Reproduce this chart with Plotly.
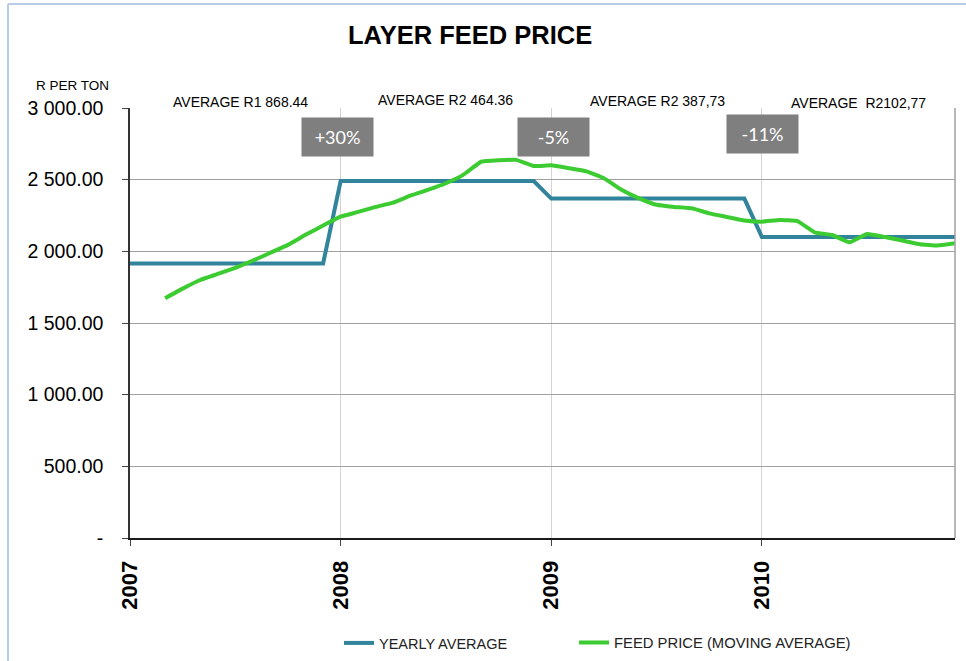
import plotly.graph_objects as go

# Data
years = ['2007', '2008', '2009', '2010']
yearly_avg = [1915, 2490, 2368, 2100]   # R per ton, held flat over each year

# feed price (moving average), monthly from Mar 2007 to Dec 2010
feed_start = 2
feed_price = [1673, 1740, 1800, 1842, 1885, 1935, 1990, 2045, 2115, 2180,
              2242, 2275, 2310, 2340, 2390, 2430, 2475, 2535, 2625, 2635,
              2638, 2595, 2600, 2580, 2558, 2510, 2430, 2370, 2325, 2310,
              2300, 2265, 2240, 2215, 2207, 2219, 2212, 2133, 2114, 2063,
              2121, 2100, 2075, 2049, 2040, 2056]

avg_labels = ['AVERAGE R1 868.44', 'AVERAGE R2 464.36',
              'AVERAGE R2 387,73', 'AVERAGE  R2102,77']
changes = ['+30%', '-5%', '-11%']

y_ticks = [0, 500, 1000, 1500, 2000, 2500, 3000]
y_ticktext = ['-', '500.00', '1 000.00', '1 500.00', '2 000.00', '2 500.00', '3 000.00']

# build monthly series
months = list(range(len(years) * 12))
blue_y = [yearly_avg[m // 12] for m in months]
green_x = list(range(feed_start, feed_start + len(feed_price)))

BLUE = '#31849B'
GREEN = '#3CCB31'
FONT = 'Arial, Liberation Sans'

# helpers: page pixels -> paper coords (plot area 130..955 x 108..538)
px = lambda v: (v - 130) / 825.0
py = lambda v: (538 - v) / 430.0

fig = go.Figure()
fig.add_trace(go.Scatter(x=months, y=blue_y, mode='lines', name='YEARLY AVERAGE',
                         line=dict(color=BLUE, width=4), legend='legend'))
fig.add_trace(go.Scatter(x=green_x, y=feed_price, mode='lines',
                         name='FEED PRICE (MOVING AVERAGE)', legend='legend2',
                         line=dict(color=GREEN, width=4, shape='spline', smoothing=0.3)))

leg = dict(orientation='h', y=py(643), xanchor='left', yanchor='middle',
           font=dict(size=14.5, color='#222'), itemwidth=30, bgcolor='rgba(0,0,0,0)')

fig.update_layout(
    width=966, height=661,
    margin=dict(l=130, r=11, t=108, b=123, autoexpand=False),
    paper_bgcolor='white', plot_bgcolor='white',
    font=dict(family=FONT, color='black'),
    showlegend=True,
    legend=dict(leg, x=px(339)),
    legend2=dict(leg, x=px(574), font=dict(size=14.8, color='#222')),
    hovermode=False,
)

fig.update_xaxes(range=[0, 47], tickvals=[0, 12, 24, 36],
                 ticktext=['<b>%s</b>' % y for y in years],
                 tickangle=-90, tickfont=dict(size=22, family=FONT),
                 showgrid=True, gridcolor='#d4d4d4', gridwidth=1,
                 showline=True, linecolor='#1a1a1a', linewidth=2,
                 ticks='outside', ticklen=6, tickcolor='#444',
                 ticklabelstandoff=6, zeroline=False, automargin=False)
fig.update_yaxes(range=[0, 3000], tickvals=y_ticks, ticktext=y_ticktext,
                 tickfont=dict(size=19.5, family=FONT),
                 showgrid=True, gridcolor='#a0a0a0', gridwidth=1,
                 showline=True, linecolor='#333', linewidth=1.5,
                 ticks='outside', ticklen=6, tickcolor='#444',
                 ticklabelstandoff=15, zeroline=False, automargin=False)

# right border of the plot area
fig.add_shape(type='line', xref='paper', yref='paper', x0=1, x1=1, y0=0, y1=1,
              line=dict(color='#a0a0a0', width=1.5))
# outer frame of the picture
fig.add_shape(type='line', xref='paper', yref='paper', x0=px(8), x1=px(966), y0=py(4), y1=py(4),
              line=dict(color='#b8cce4', width=2))
fig.add_shape(type='line', xref='paper', yref='paper', x0=px(8), x1=px(8), y0=py(4), y1=py(661),
              line=dict(color='#b8cce4', width=2))

# title
fig.add_annotation(text='<b>LAYER FEED PRICE</b>', xref='paper', yref='paper',
                   x=px(470), y=py(35), xanchor='center', yanchor='middle',
                   showarrow=False, font=dict(size=25.5, color='black', family=FONT))

# axis caption
fig.add_annotation(text='R PER TON', xref='paper', yref='paper', x=px(72), y=py(85),
                   xanchor='center', yanchor='middle',
                   showarrow=False, font=dict(size=13.5, color='black'))

# yearly average labels above the plot
for txt, cx, cy in zip(avg_labels, [240, 445, 657, 858], [102, 100, 101, 103]):
    fig.add_annotation(text=txt, xref='paper', yref='paper', x=px(cx), y=py(cy),
                       xanchor='center', yanchor='middle',
                       showarrow=False, font=dict(size=14, color='black'))

# change boxes
for txt, cx, cy in zip(changes, [337.5, 553.5, 762], [137, 137, 134]):
    fig.add_annotation(text=txt, xref='paper', yref='paper', x=px(cx), y=py(cy),
                       xanchor='center', yanchor='middle',
                       showarrow=False, bgcolor='#7f7f7f', width=67, height=34, borderpad=2,
                       font=dict(size=18, color='white', family='Lato, Open Sans'))

fig.write_html('out.html', config={'displayModeBar': False},
               post_script="document.body.style.margin='0';")
